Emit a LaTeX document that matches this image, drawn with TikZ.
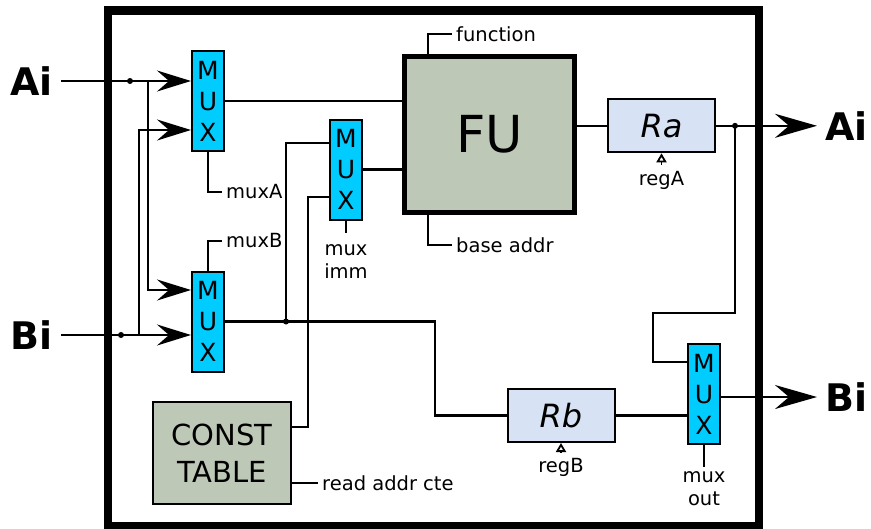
\documentclass[tikz,border=0pt]{standalone}
\usepackage{fontspec}
\setmainfont{DejaVu Sans}[ItalicFont={DejaVu Sans Oblique},BoldFont={DejaVu Sans Bold}]
\usetikzlibrary{arrows.meta,positioning}
\definecolor{mcyan}{HTML}{00CCFF}
\definecolor{rblue}{HTML}{D7E2F4}
\definecolor{fgray}{HTML}{BEC8B7}

\begin{document}
\begin{tikzpicture}[x=1pt,y=-1pt,
  mx/.style={draw,line width=2pt,fill=mcyan,minimum width=32pt,minimum height=100pt,
             inner sep=0pt,align=center,font=\fontsize{25}{31}\selectfont},
  fb/.style={draw,line width=5pt,fill=fgray,minimum width=170pt,minimum height=156pt,
             font=\fontsize{51}{60}\selectfont},
  tb/.style={draw,line width=2pt,fill=fgray,minimum width=138pt,minimum height=102pt,
             align=center,font=\fontsize{29}{37}\selectfont},
  rg/.style={draw,line width=2pt,fill=rblue,minimum width=107pt,minimum height=53pt,
             font=\fontsize{32}{36}\selectfont\itshape},
  io/.style={inner sep=8pt,font=\fontsize{38}{40}\selectfont\bfseries},
  lb/.style={inner sep=4pt,align=center,font=\fontsize{19.5}{23}\selectfont},
  jd/.style={circle,fill,inner sep=0pt,minimum size=6pt},
  w/.style={line width=2.2pt},
  a/.style={w,-{Stealth[length=34pt,width=21pt,inset=12pt]}},
  ao/.style={w,-{Stealth[length=42pt,width=24pt,inset=14pt]}},
  ck/.style={line width=1.8pt,-{Triangle[open,length=9pt,width=10pt]}}]

\useasboundingbox (0,0) rectangle (871,528);
\draw[line width=8.5pt] (108,10.5) rectangle (759,526);

\node[mx] (muxA) at (208,101)   {M\\U\\X};
\node[mx] (muxB) at (208,321.5) {M\\U\\X};
\node[mx] (muxI) at (346,169.5) {M\\U\\X};
\node[mx] (muxO) at (704,394)   {M\\U\\X};
\node[fb] (fu)   at (489.5,134.5) {FU};
\node[rg] (ra)   at (661.5,125.8) {Ra};
\node[rg] (rb)   at (561,415.5)   {Rb};
\node[tb] (ctab) at (222,453)     {CONST\\TABLE};

\node[io,anchor=east] (inA)  at (61,81)      {Ai};
\node[io,anchor=east] (inB)  at (61,335)     {Bi};
\node[io,anchor=west] (outA) at (817,125.8)  {Ai};
\node[io,anchor=west] (outB) at (817,397)    {Bi};

% inputs and their cross branches
\node[jd] (dA) at (130,81) {};
\node[jd] (dB) at (121,335) {};
\coordinate (jA) at (148,81);
\coordinate (jB) at (139,335);
\draw[a] (inA.east) -- (muxA.west |- inA.east);
\draw[a] (inB.east) -- (muxB.west |- inB.east);
\draw[a] (jA) |- ([yshift=31.5pt]muxB.west);
\draw[a] (jB) |- ([yshift=-29pt]muxA.west);

\draw[w] (muxA.east) -- (muxA.east -| fu.west);
\draw[w] (muxI.east) -- (muxI.east -| fu.west);
\draw[w] (fu.east |- ra.west) -- (ra.west);
\draw[ao] (ra.east) -- (outA.west);

\node[jd] (dM) at (286,321.5) {};
\draw[w] (muxB.east) -- ++(210,0) |- (rb.west);
\draw[w] (dM.center) |- ([yshift=26.5pt]muxI.west);
\draw[w] ([yshift=26pt]ctab.east) -- ++(16,0) |- ([yshift=-27.5pt]muxI.west);

\node[jd] (dR) at (735,125.8) {};
\draw[w] (dR.center) |- (653,313) |- ([yshift=32pt]muxO.west);
\draw[w] (rb.east) -- (rb.east -| muxO.west);
\draw[ao] (muxO.east |- outB.west) -- (outB.west);

% control signals
\node[lb,anchor=west] (lA)  at (222,192) {muxA};
\node[lb,anchor=west] (lB)  at (222,241) {muxB};
\node[lb,anchor=west] (lF)  at (452,34)  {function};
\node[lb,anchor=west] (lBA) at (452,245) {base addr};
\node[lb,anchor=west] (lR)  at (318,483) {read addr cte};
\node[lb,anchor=north,inner ysep=11pt] (lI) at (346,233) {mux\\imm};
\node[lb,anchor=north,inner ysep=4pt]  (lO) at (704,467) {mux\\out};
\node[lb,anchor=north,inner ysep=6pt]  (lRA) at (661.5,165) {regA};
\node[lb,anchor=north,inner ysep=5pt]  (lRB) at (561,453) {regB};
\draw[w] (muxA.south) |- (lA.west);
\draw[w] (muxB.north) |- (lB.west);
\draw[w] ([xshift=-61.5pt]fu.north) |- (lF.west);
\draw[w] ([xshift=-61.5pt]fu.south) |- (lBA.west);
\draw[w] ([yshift=-30pt]ctab.east) -- (lR.west);
\draw[w] (muxI.south) -- (lI.north);
\draw[w] (muxO.south) -- (lO.north);
\draw[ck] (lRA.north) -- (ra.south);
\draw[ck] (lRB.north) -- (rb.south);
\end{tikzpicture}
\end{document}
